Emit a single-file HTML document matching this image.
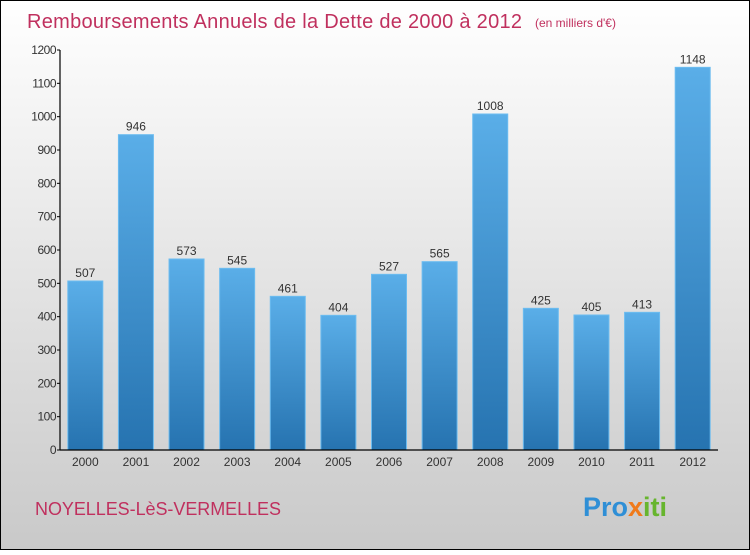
<!DOCTYPE html>
<html><head><meta charset="utf-8"><style>
html,body{margin:0;padding:0;}
body{width:750px;height:550px;overflow:hidden;font-family:"Liberation Sans",sans-serif;}
</style></head><body>
<svg id="chart" width="750" height="550" xmlns="http://www.w3.org/2000/svg">
<defs>
<linearGradient id="bg" x1="0" y1="0" x2="0" y2="1"><stop offset="0" stop-color="#ffffff"/><stop offset="1" stop-color="#c9c9c9"/></linearGradient>
<linearGradient id="bar" x1="0" y1="0" x2="0" y2="1"><stop offset="0" stop-color="#5aaee8"/><stop offset="1" stop-color="#2673b0"/></linearGradient>
</defs>
<rect x="0.5" y="0.5" width="749" height="549" fill="url(#bg)" stroke="#000"/>
<text x="27" y="28" font-size="20" fill="#c0305e" textLength="495">Remboursements Annuels de la Dette de 2000 à 2012</text>
<text x="535" y="27" font-size="12" fill="#c0305e">(en milliers d'€)</text>
<text x="35" y="515" font-size="18" fill="#c0305e" textLength="246">NOYELLES-LèS-VERMELLES</text>
<g font-size="27" font-weight="bold">
<text x="583" y="516"><tspan fill="#2f8fd6">Pro</tspan><tspan fill="#f07a1a">x</tspan><tspan fill="#67b52e">iti</tspan></text>
</g>
<g id="plot"></g>
</svg>
<script>
const categories=["2000","2001","2002","2003","2004","2005","2006","2007","2008","2009","2010","2011","2012"];
const values=[507,946,573,545,461,404,527,565,1008,425,405,413,1148];
const ticks=[0,100,200,300,400,500,600,700,800,900,1000,1100,1200];
const X0=60,X1=718,Y0=450,Y1=50,MAX=1200;
const y=v=>Y0-(v/MAX)*(Y0-Y1);
const step=(X1-X0)/categories.length;
const xc=i=>X0+step*(i+0.5);
const ns="http://www.w3.org/2000/svg";
const g=document.getElementById('plot');
function mk(t,a){const e=document.createElementNS(ns,t);for(const k in a)e.setAttribute(k,a[k]);g.appendChild(e);return e;}
values.forEach((v,i)=>{
 const r=mk('rect',{x:xc(i)-17.5,y:y(v),width:35,height:Y0-y(v),fill:'url(#bar)',stroke:'#6cbcf0','stroke-width':1});
 
 
 const t=mk('text',{x:xc(i),y:y(v)-4,'text-anchor':'middle','font-size':12,fill:'#333'});
 t.textContent=v;
 
 
 const c=mk('text',{x:xc(i),y:Y0+16,'text-anchor':'middle','font-size':12,fill:'#333'});
 c.textContent=categories[i];
 
 
});
ticks.forEach(t=>{
 const l=mk('line',{x1:X0-3,x2:X0,y1:y(t),y2:y(t),stroke:'#000'});
 
 
 const tx=mk('text',{x:X0-4,y:y(t)+4,'text-anchor':'end','font-size':12,fill:'#333','letter-spacing':'-0.5'});
 tx.textContent=t;
 
 
});
const ya=mk('line',{x1:X0,x2:X0,y1:Y1,y2:Y0,stroke:'#000','stroke-width':1.2});


const xa=mk('line',{x1:X0,x2:X1,y1:Y0,y2:Y0,stroke:'#000','stroke-width':1.2});


</script>
</body></html>
